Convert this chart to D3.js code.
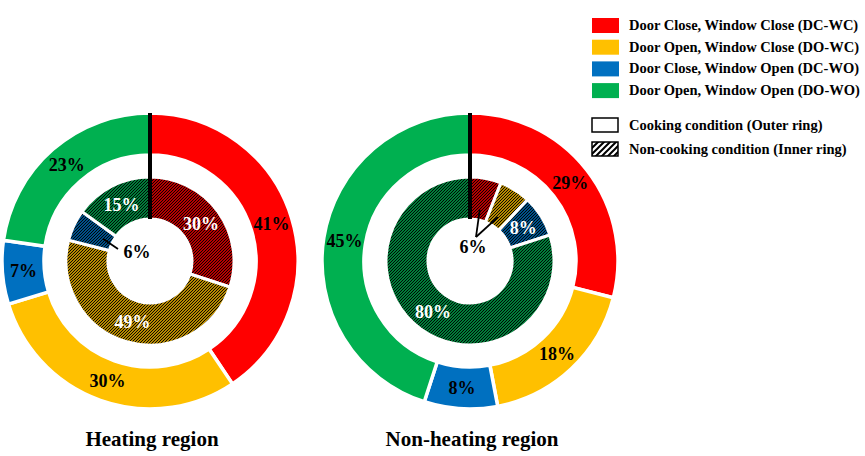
<!DOCTYPE html>
<html>
<head>
<meta charset="utf-8">
<script src="https://cdn.jsdelivr.net/npm/d3@7"></script>
<style>
  body { margin: 0; background: #fff; }
  svg text { font-family: "Times New Roman", "Liberation Serif", serif; font-weight: bold; }
</style>
</head>
<body>
<div id="chart"></div>
<script>
// data
const categories = [
  "Door Close, Window Close (DC-WC)",
  "Door Open, Window Close (DO-WC)",
  "Door Close, Window Open (DC-WO)",
  "Door Open, Window Open (DO-WO)"
];
const regions = ["Heating region", "Non-heating region"];
const heatingOuter = [41, 30, 7, 23];
const heatingInner = [30, 49, 6, 15];
const nonHeatingOuter = [29, 18, 8, 45];
const nonHeatingInner = [6, 6, 8, 80];
const ringNames = ["Cooking condition (Outer ring)", "Non-cooking condition (Inner ring)"];

const colors = ["#ff0000", "#ffc000", "#0070c0", "#00b050"];

const svgWidth = 865;
const svgHeight = 456;

const svg = d3.select("#chart")
  .append("svg")
  .attr("width", svgWidth)
  .attr("height", svgHeight);

const defs = svg.append("defs");

// fine hatch for the inner rings
colors.forEach(function(c, i) {
  const p = defs.append("pattern")
    .attr("id", "hatch" + i)
    .attr("width", 3)
    .attr("height", 3)
    .attr("patternUnits", "userSpaceOnUse");
  p.append("rect").attr("width", 3).attr("height", 3).attr("fill", c);
  p.append("path")
    .attr("d", "M-1,1 l2,-2 M0,3 l3,-3 M2,4 l2,-2")
    .attr("stroke", "#000")
    .attr("stroke-width", 1.1);
});

// coarse hatch for legend swatch
const lp = defs.append("pattern")
  .attr("id", "hatchLegend")
  .attr("width", 6)
  .attr("height", 6)
  .attr("patternUnits", "userSpaceOnUse");
lp.append("rect").attr("width", 6).attr("height", 6).attr("fill", "#fff");
lp.append("path")
  .attr("d", "M-1.5,1.5 l3,-3 M0,6 l6,-6 M4.5,7.5 l3,-3")
  .attr("stroke", "#000")
  .attr("stroke-width", 2);

const rOuter = 148, rOuterIn = 106;
const rInner = 84, rInnerIn = 42;

const pie = d3.pie().sort(null).value(d => d);
const outerArc = d3.arc().innerRadius(rOuterIn).outerRadius(rOuter);
const innerArc = d3.arc().innerRadius(rInnerIn).outerRadius(rInner);

const donuts = [
  {title: regions[0], outer: heatingOuter, inner: heatingInner, cx: 150, cy: 261,
   smallText: [-13, -9], smallJoin: [-32, -12]},
  {title: regions[1], outer: nonHeatingOuter, inner: nonHeatingInner, cx: 470, cy: 261,
   smallText: [3, -14], smallJoin: [6, -24]}
];

function pointAt(a, r) {
  const ang = (a.startAngle + a.endAngle) / 2;
  return [Math.sin(ang) * r, -Math.cos(ang) * r];
}

donuts.forEach(function(d) {
  const g = svg.append("g")
    .attr("transform", `translate(${d.cx}, ${d.cy})`);

  const outerData = pie(d.outer);
  const innerData = pie(d.inner);

  g.selectAll("path.outer")
    .data(outerData)
    .enter()
    .append("path")
    .attr("class", "outer")
    .attr("d", outerArc)
    .attr("fill", (a, i) => colors[i])
    .attr("stroke", "#fff")
    .attr("stroke-width", 3.5);

  g.selectAll("path.inner")
    .data(innerData)
    .enter()
    .append("path")
    .attr("class", "inner")
    .attr("d", innerArc)
    .attr("fill", (a, i) => `url(#hatch${i})`)
    .attr("stroke", "#fff")
    .attr("stroke-width", 3);

  // black divider at 12 o'clock
  g.append("line")
    .attr("x1", 0).attr("x2", 0)
    .attr("y1", -rOuter).attr("y2", -rInnerIn)
    .attr("stroke", "#000")
    .attr("stroke-width", 4);

  // outer labels
  g.selectAll("text.outer")
    .data(outerData)
    .enter()
    .append("text")
    .attr("class", "outer")
    .attr("transform", a => `translate(${outerArc.centroid(a)})`)
    .attr("dy", "0.35em")
    .attr("text-anchor", "middle")
    .attr("font-size", 18)
    .attr("fill", "#000")
    .text(a => a.data + "%");

  // inner labels, the big ones inside
  g.selectAll("text.inner")
    .data(innerData.filter(a => a.data >= 7))
    .enter()
    .append("text")
    .attr("class", "inner")
    .attr("transform", a => `translate(${innerArc.centroid(a)})`)
    .attr("dy", "0.35em")
    .attr("text-anchor", "middle")
    .attr("font-size", 18)
    .attr("fill", "#fff")
    .text(a => a.data + "%");

  // small slices get one label with leader lines
  const smalls = innerData.filter(a => a.data < 7);
  if (smalls.length) {
    smalls.forEach(function(a) {
      const p = pointAt(a, 52);
      g.append("line")
        .attr("x1", p[0]).attr("y1", p[1])
        .attr("x2", d.smallJoin[0]).attr("y2", d.smallJoin[1])
        .attr("stroke", "#000")
        .attr("stroke-width", 1.8);
    });
    g.append("text")
      .attr("x", d.smallText[0])
      .attr("y", d.smallText[1])
      .attr("dy", "0.35em")
      .attr("text-anchor", "middle")
      .attr("font-size", 18)
      .attr("fill", "#000")
      .text(smalls[0].data + "%");
  }

  svg.append("text")
    .attr("x", d.cx + 2)
    .attr("y", 446)
    .attr("text-anchor", "middle")
    .attr("font-size", 21)
    .attr("fill", "#000")
    .text(d.title);
});

// legend
const legend = svg.append("g").attr("transform", "translate(592, 0)");

const colorRows = legend.selectAll("g.crow")
  .data(categories)
  .enter()
  .append("g")
  .attr("class", "crow")
  .attr("transform", (c, i) => `translate(0, ${18 + i * 21.7})`);

colorRows.append("rect")
  .attr("width", 27)
  .attr("height", 15)
  .attr("fill", (c, i) => colors[i]);

colorRows.append("text")
  .attr("x", 37)
  .attr("y", 12)
  .attr("font-size", 14.5)
  .attr("fill", "#000")
  .text(c => c);

const ringRows = legend.selectAll("g.rrow")
  .data(ringNames)
  .enter()
  .append("g")
  .attr("class", "rrow")
  .attr("transform", (c, i) => `translate(0, ${118 + i * 24})`);

ringRows.append("rect")
  .attr("width", 26)
  .attr("height", 14)
  .attr("fill", (c, i) => i === 0 ? "#fff" : "url(#hatchLegend)")
  .attr("stroke", "#000")
  .attr("stroke-width", 1.5);

ringRows.append("text")
  .attr("x", 37)
  .attr("y", 12)
  .attr("font-size", 14.5)
  .attr("fill", "#000")
  .text(c => c);
</script>
</body>
</html>
